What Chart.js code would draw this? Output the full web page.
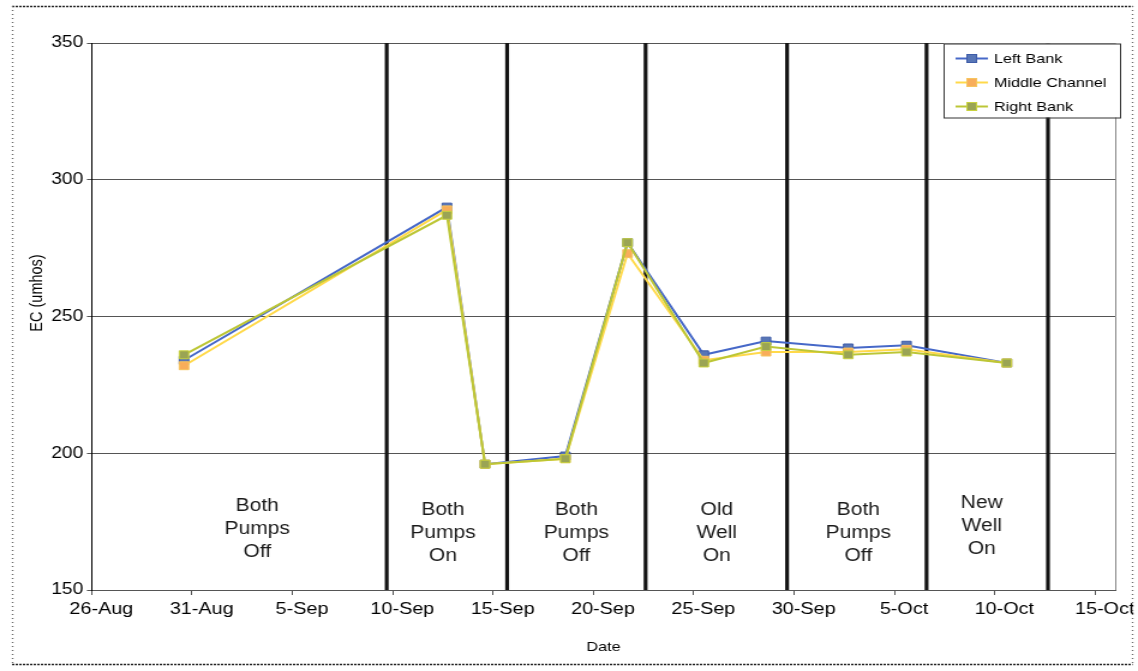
<!DOCTYPE html>
<html>
<head>
<meta charset="utf-8">
<script src="https://cdn.jsdelivr.net/npm/chart.js@4/dist/chart.umd.min.js"></script>
<style>
  html, body { margin: 0; padding: 0; background: #fff; overflow: hidden; }
  #wrap { width: 948px; height: 671px; transform: scaleX(1.2004); transform-origin: 0 0; }
</style>
</head>
<body>
<div id="wrap"><canvas id="c" width="948" height="671"></canvas></div>
<script>
// Sampling days, counted from 26 August
const sampleDay = [4.6, 17.7, 19.6, 23.6, 26.7, 30.5, 33.6, 37.7, 40.6, 45.6];

// Electrical conductivity (umhos) at each sampling day
const leftBank      = [234, 290, 196, 199, 277, 236, 241, 238.5, 239.5, 233];
const middleChannel = [232, 289, 196, 198, 273, 234, 237, 237, 238, 233];
const rightBank     = [236, 287, 196, 198, 277, 233, 239, 236, 237, 233];

const seriesNames = ['Left Bank', 'Middle Channel', 'Right Bank'];

// Date labels every 5 days from 26 August
const dateTicks = ['26-Aug', '31-Aug', '5-Sep', '10-Sep', '15-Sep', '20-Sep',
                   '25-Sep', '30-Sep', '5-Oct', '10-Oct', '15-Oct'];

// Days on which the pumping regime changed
const pumpSwitchDay = [14.7, 20.7, 27.6, 34.65, 41.6, 47.65];

// Pumping regime notes: text, day and EC level of the middle line
const phaseNotes = [
  ['Both', 'Pumps', 'Off'],
  ['Both', 'Pumps', 'On'],
  ['Both', 'Pumps', 'Off'],
  ['Old', 'Well', 'On'],
  ['Both', 'Pumps', 'Off'],
  ['New', 'Well', 'On']
];
const phaseNoteDay = [8.25, 17.5, 24.15, 31.15, 38.2, 44.35];
const phaseNoteEC  = [172.3, 170.7, 170.8, 170.8, 170.8, 173.5];

const FONT = '"Liberation Sans", Arial, Helvetica, sans-serif';

function seriesSet(label, values, line, fill, edge, order) {
  return {
    label,
    data: sampleDay.map((d, i) => ({ x: d, y: values[i] })),
    borderColor: line,
    backgroundColor: fill,
    borderWidth: 2,
    pointStyle: 'rect',
    pointRadius: 5.6,
    pointBackgroundColor: fill,
    pointBorderColor: edge,
    pointBorderWidth: 1,
    tension: 0,
    order,
    isSeries: true
  };
}

const switchSets = pumpSwitchDay.map(d => ({
  label: '',
  data: [{ x: d, y: 150 }, { x: d, y: 350 }],
  borderColor: '#141414',
  borderWidth: 3.2,
  pointRadius: 0,
  order: 10
}));

const decor = {
  id: 'decor',
  afterDatasetsDraw(chart) {
    const { ctx, scales: { x, y } } = chart;
    ctx.save();
    ctx.fillStyle = '#1a1a1a';
    ctx.font = '17.5px ' + FONT;
    ctx.textAlign = 'center';
    ctx.textBaseline = 'middle';
    phaseNotes.forEach((lines, i) => {
      const px = x.getPixelForValue(phaseNoteDay[i]);
      const py = y.getPixelForValue(phaseNoteEC[i]);
      lines.forEach((t, k) => ctx.fillText(t, px, py + (k - 1) * 23));
    });
    ctx.restore();
  },
  afterDraw(chart) {
    const { ctx, chartArea: a } = chart;
    ctx.save();

    // right edge of the plot area
    ctx.strokeStyle = '#8a8a8a';
    ctx.lineWidth = 1;
    ctx.beginPath();
    ctx.moveTo(a.right + 0.5, a.top);
    ctx.lineTo(a.right + 0.5, a.bottom);
    ctx.stroke();

    // legend
    const lx = 786, ly = 43.5, lw = 147, lh = 74;
    ctx.fillStyle = '#fff';
    ctx.fillRect(lx, ly, lw, lh);
    ctx.strokeStyle = '#333';
    ctx.lineWidth = 1;
    ctx.strokeRect(lx + 0.5, ly + 0.5, lw, lh);
    const series = chart.data.datasets.filter(d => d.isSeries);
    ctx.font = '13.5px ' + FONT;
    ctx.textBaseline = 'middle';
    ctx.textAlign = 'left';
    series.forEach((d, i) => {
      const yy = ly + 15 + i * 24;
      ctx.strokeStyle = d.borderColor;
      ctx.lineWidth = 2;
      ctx.beginPath();
      ctx.moveTo(796, yy);
      ctx.lineTo(823, yy);
      ctx.stroke();
      ctx.fillStyle = d.pointBackgroundColor;
      ctx.fillRect(805.5, yy - 4, 8, 8);
      ctx.strokeStyle = d.pointBorderColor;
      ctx.lineWidth = 1;
      ctx.strokeRect(805.5, yy - 4, 8, 8);
      ctx.fillStyle = '#000';
      ctx.fillText(d.label, 828, yy + 0.5);
    });

    // axis titles
    ctx.fillStyle = '#000';
    ctx.font = '13.5px ' + FONT;
    ctx.textAlign = 'center';
    ctx.fillText('Date', (a.left + a.right) / 2, 647);
    ctx.save();
    ctx.translate(30.8, 293);
    ctx.rotate(-Math.PI / 2);
    ctx.font = '14.5px ' + FONT;
    ctx.fillText('EC (umhos)', 0, 0);
    ctx.restore();

    // chart border
    ctx.fillStyle = '#fff';
    ctx.fillRect(944.2, 0, 10, 671);
    ctx.lineWidth = 1.3;
    ctx.strokeStyle = '#222';
    ctx.setLineDash([2, 1]);
    ctx.beginPath();
    ctx.moveTo(10, 6.5); ctx.lineTo(943.5, 6.5);
    ctx.moveTo(10, 664.5); ctx.lineTo(943.5, 664.5);
    ctx.stroke();
    ctx.strokeStyle = '#666';
    ctx.setLineDash([1, 3]);
    ctx.beginPath();
    ctx.moveTo(10.5, 6); ctx.lineTo(10.5, 665);
    ctx.moveTo(943.5, 6); ctx.lineTo(943.5, 665);
    ctx.stroke();
    ctx.restore();
  }
};

new Chart(document.getElementById('c'), {
  type: 'line',
  data: {
    datasets: [
      seriesSet(seriesNames[0], leftBank, '#4668c8', '#5876b6', '#3e5ca8', 3),
      seriesSet(seriesNames[1], middleChannel, '#ffd94a', '#f8ad5a', '#f6c45e', 2),
      seriesSet(seriesNames[2], rightBank, '#bcc636', '#9aa454', '#c9d23e', 1),
      ...switchSets
    ]
  },
  options: {
    responsive: false,
    animation: false,
    events: [],
    layout: { padding: { top: 43, right: 19, bottom: 0, left: 0 } },
    plugins: { legend: { display: false }, tooltip: { enabled: false } },
    scales: {
      x: {
        type: 'linear',
        min: 0,
        max: 51,
        border: { color: '#555', width: 1 },
        grid: { drawOnChartArea: false, drawTicks: true, tickLength: 5, color: '#555' },
        ticks: {
          stepSize: 5,
          includeBounds: false,
          autoSkip: false,
          maxRotation: 0,
          padding: 5,
          labelOffset: 8,
          color: '#000',
          font: { family: FONT, size: 16.5 },
          callback: v => dateTicks[v / 5]
        },
        afterFit(s) { s.height = 81; s.paddingLeft = 0; s.paddingRight = 0; }
      },
      y: {
        min: 150,
        max: 350,
        border: { color: '#000', width: 1 },
        grid: { color: '#555', tickLength: 4 },
        ticks: {
          stepSize: 50,
          padding: 3,
          color: '#000',
          font: { family: FONT, size: 16 }
        },
        afterFit(s) { s.width = 76.4; s.paddingTop = 0; s.paddingBottom = 0; }
      }
    }
  },
  plugins: [decor]
});
</script>
</body>
</html>
